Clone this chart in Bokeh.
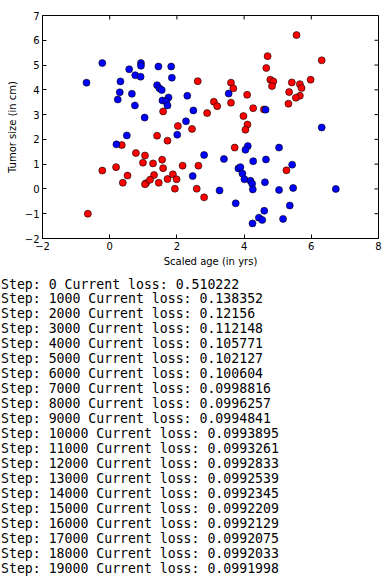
import math
import html
from bokeh.plotting import figure
from bokeh.layouts import column
from bokeh.models import Range1d, FixedTicker, Div
from bokeh.embed import file_html
from bokeh.resources import INLINE

# ---- data ----
blue_x = [-0.69, -0.22, 0.58, 0.93, 0.93, 0.76, 0.92, 0.32, 0.30, 0.66, 0.24, 0.75, 1.04,
          1.45, 1.83, 1.85, 1.41, 1.48, 1.55, 1.75, 1.57, 1.68, 1.72, 2.31, 2.49, 2.27,
          2.01, 0.51, 0.20, 2.47, 3.54, 4.64, 6.31, 4.11, 4.04, 5.04, 2.81, 3.40, 4.27,
          4.65, 5.43, 3.83, 3.89, 3.95, 4.01, 4.19, 4.24, 4.62, 4.26, 3.27, 5.04, 5.46,
          6.73, 3.75, 5.36, 4.60, 4.44, 4.54, 5.16, 4.25]
blue_y = [4.29, 5.08, 4.83, 5.08, 4.97, 4.59, 4.53, 4.34, 3.90, 3.84, 3.61, 3.37, 2.88,
          4.94, 4.94, 4.49, 4.19, 4.06, 3.99, 3.69, 3.57, 3.53, 3.37, 3.76, 3.17, 2.73,
          2.19, 2.16, 1.80, 0.52, 3.85, 3.20, 2.48, 1.73, 1.58, 1.67, 1.37, 1.21, 1.12,
          1.19, 0.98, 0.83, 0.88, 0.62, 0.39, 0.33, 0.21, 0.27, -0.02, -0.06, -0.04, 0.04,
          0.00, -0.58, -0.67, -0.88, -1.16, -1.25, -1.21, -1.39]

red_x = [2.62, 1.59, 2.03, 2.45, 1.41, 1.72, -0.65, -0.22, 0.19, 0.36, 0.78, 1.05, 0.99,
         1.29, 1.56, 1.59, 1.32, 0.53, 0.39, 1.08, 1.05, 1.20, 1.46, 1.72, 1.88, 1.99,
         1.94, 2.17, 2.64, 2.59, 2.81, 5.56, 4.70, 6.31, 4.66, 3.61, 3.68, 4.09, 4.78,
         4.87, 4.83, 5.42, 5.66, 5.71, 5.98, 5.34, 5.66, 5.54, 5.32, 3.10, 3.20, 3.61,
         2.90, 4.27, 4.59, 3.98, 4.10, 4.04, 3.72, 5.26]
red_y = [4.35, 3.13, 2.54, 2.42, 2.15, 1.95, -1.00, 0.74, 0.88, 1.77, 1.45, 1.35, 1.06,
         1.03, 1.18, 0.84, 0.56, 0.54, 0.25, 0.23, 0.19, 0.37, 0.25, 0.40, 0.59, 0.39,
         0.01, 0.94, 0.94, 0.01, -0.34, 6.21, 5.36, 5.19, 4.88, 4.29, 4.06, 3.80, 4.41,
         4.34, 4.15, 4.30, 4.23, 4.07, 4.41, 3.91, 3.76, 3.68, 3.44, 3.52, 3.34, 3.48,
         3.06, 3.26, 3.21, 2.94, 2.60, 2.39, 1.67, 0.75]

x_ticks = [-2, 0, 2, 4, 6, 8]
y_ticks = [-2, -1, 0, 1, 2, 3, 4, 5, 6, 7]

steps = [0, 1000, 2000, 3000, 4000, 5000, 6000, 7000, 8000, 9000,
         10000, 11000, 12000, 13000, 14000, 15000, 16000, 17000, 18000, 19000]
losses = [0.510222, 0.138352, 0.12156, 0.112148, 0.105771, 0.102127, 0.100604,
          0.0998816, 0.0996257, 0.0994841, 0.0993895, 0.0993261, 0.0992833,
          0.0992539, 0.0992345, 0.0992209, 0.0992129, 0.0992075, 0.0992033, 0.0991998]

FONT = "DejaVu Sans"

W = 389
PH = 270                              # height of the chart part
FL, FR, FT, FB = 42, 378, 15, 238     # frame edges in canvas pixels

p = figure(width=W, height=PH, output_backend="svg", toolbar_location=None,
           x_range=Range1d(x_ticks[0], x_ticks[-1]), y_range=Range1d(y_ticks[0], y_ticks[-1]),
           min_border_left=FL, min_border_right=W - FR, min_border_top=FT,
           min_border_bottom=PH - FB)
p.grid.visible = False
p.outline_line_color = "black"
p.outline_line_width = 1
p.background_fill_color = "white"
p.border_fill_color = "white"

def minus(v):
    return str(v).replace("-", "\u2212")

for ax, ticks in ((p.xaxis[0], x_ticks), (p.yaxis[0], y_ticks)):
    ax.ticker = FixedTicker(ticks=ticks)
    ax.major_label_overrides = {t: minus(t) for t in ticks}
    ax.axis_line_color = None
    ax.major_tick_in = 4
    ax.major_tick_out = 0
    ax.major_tick_line_color = "black"
    ax.minor_tick_line_color = None
    ax.major_label_text_font = FONT
    ax.major_label_text_font_size = "10px"
    ax.major_label_text_color = "black"
    ax.major_label_standoff = 3
    ax.axis_label_text_font = FONT
    ax.axis_label_text_font_size = "10px"
    ax.axis_label_text_font_style = "normal"
    ax.axis_label_text_color = "black"

p.xaxis[0].axis_label = "Scaled age (in yrs)"
p.xaxis[0].axis_label_standoff = 3
p.yaxis[0].axis_label = "Tumor size (in cm)"
p.yaxis[0].axis_label_standoff = 4

# inward ticks on the top and right edges of the frame
p.ray(x=x_ticks, y=[y_ticks[-1]] * len(x_ticks), length=4, length_units="screen",
      angle=-math.pi / 2, line_color="black", line_width=1)
p.ray(x=[x_ticks[-1]] * len(y_ticks), y=y_ticks, length=4, length_units="screen",
      angle=math.pi, line_color="black", line_width=1)

p.scatter(red_x, red_y, size=7, fill_color="#ff0000", line_color="black", line_width=0.6)
p.scatter(blue_x, blue_y, size=7, fill_color="#0000ff", line_color="black", line_width=0.6)

# ---- console log below the chart ----
lines = [f"Step: {s} Current loss: {l!r}" for s, l in zip(steps, losses)]
pre = ("<pre style=\"margin:0; padding:7.5px 0 0 1px; font-family:'DejaVu Sans Mono', monospace; "
       "font-size:13.2px; line-height:14.95px; color:black; white-space:pre;\">"
       + "\n".join(html.escape(x) for x in lines) + "</pre>")
log = Div(text=pre, width=W, height=586 - PH, margin=0)

layout = column(p, log, spacing=0)

open("out.html", "w").write(file_html(layout, INLINE))
